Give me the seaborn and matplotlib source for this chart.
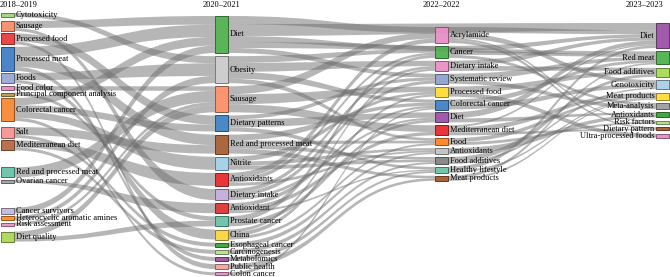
"""Thematic evolution of keywords across four periods (alluvial)."""
import matplotlib
matplotlib.use("Agg")
import matplotlib.pyplot as plt
import matplotlib.colors as mcolors
from matplotlib.path import Path
from matplotlib.patches import PathPatch, Rectangle
import seaborn as sns

# ---- data -----------------------------------------------------------------
periods = ["2018–2019", "2020–2021", "2022–2022", "2023–2023"]

terms_1819 = ["Cytotoxicity", "Sausage", "Processed food", "Processed meat", "Foods",
              "Food color", "Principal component analysis", "Colorectal cancer", "Salt",
              "Mediterranean diet", "Red and processed meat", "Ovarian cancer",
              "Cancer survivors", "Heterocyclic aromatic amines", "Risk assessment",
              "Diet quality"]
freq_1819 = [4, 10, 11, 24, 10, 4, 3, 23, 11, 10, 10, 3, 6, 4, 3, 10]

terms_2021 = ["Diet", "Obesity", "Sausage", "Dietary patterns", "Red and processed meat",
              "Nitrite", "Antioxidants", "Dietary intake", "Antioxidant", "Prostate cancer",
              "China", "Esophageal cancer", "Carcinogenesis", "Metabolomics",
              "Public health", "Colon cancer"]
freq_2021 = [37, 27, 26, 16, 19, 13, 13, 11, 10, 10, 10, 4, 4, 4, 5, 3]

terms_22 = ["Acrylamide", "Cancer", "Dietary intake", "Systematic review", "Processed food",
            "Colorectal cancer", "Diet", "Mediterranean diet", "Food", "Antioxidants",
            "Food additives", "Healthy lifestyle", "Meat products"]
freq_22 = [16, 12, 10, 10, 10, 10, 10, 10, 7, 6, 7, 6, 5]

terms_23 = ["Diet", "Red meat", "Food additives", "Genotoxicity", "Meat products",
            "Meta-analysis", "Antioxidants", "Risk factors", "Dietary pattern",
            "Ultra-processed foods"]
freq_23 = [25, 13, 9, 9, 7, 6, 5, 3, 3, 4]

# (source period, source term, target period, target term, weight)
links = [
    (0, "Cytotoxicity", 1, "Obesity", 4),
    (0, "Sausage", 1, "Diet", 7),
    (0, "Sausage", 1, "Dietary intake", 3),
    (0, "Processed food", 1, "Dietary patterns", 8),
    (0, "Processed food", 1, "Public health", 3),
    (0, "Processed meat", 1, "Diet", 10),
    (0, "Processed meat", 1, "Red and processed meat", 10),
    (0, "Processed meat", 1, "Metabolomics", 4),
    (0, "Foods", 1, "Obesity", 7),
    (0, "Foods", 1, "China", 3),
    (0, "Food color", 1, "Sausage", 4),
    (0, "Principal component analysis", 1, "Prostate cancer", 3),
    (0, "Colorectal cancer", 1, "Diet", 7),
    (0, "Colorectal cancer", 1, "Dietary patterns", 6),
    (0, "Colorectal cancer", 1, "Nitrite", 6),
    (0, "Colorectal cancer", 1, "Colon cancer", 3),
    (0, "Salt", 1, "Red and processed meat", 8),
    (0, "Salt", 1, "Esophageal cancer", 3),
    (0, "Mediterranean diet", 1, "Antioxidants", 7),
    (0, "Mediterranean diet", 1, "Carcinogenesis", 3),
    (0, "Red and processed meat", 1, "Sausage", 10),
    (0, "Ovarian cancer", 1, "Antioxidant", 3),
    (0, "Cancer survivors", 1, "Diet", 6),
    (0, "Heterocyclic aromatic amines", 1, "Obesity", 4),
    (0, "Risk assessment", 1, "Sausage", 3),
    (0, "Diet quality", 1, "Sausage", 6),
    (0, "Diet quality", 1, "Prostate cancer", 4),
    (1, "Diet", 3, "Diet", 12),
    (1, "Diet", 2, "Acrylamide", 8),
    (1, "Diet", 2, "Cancer", 6),
    (1, "Diet", 2, "Systematic review", 5),
    (1, "Diet", 3, "Red meat", 6),
    (1, "Obesity", 2, "Dietary intake", 8),
    (1, "Obesity", 2, "Colorectal cancer", 6),
    (1, "Obesity", 2, "Cancer", 6),
    (1, "Obesity", 2, "Food", 4),
    (1, "Sausage", 2, "Processed food", 10),
    (1, "Sausage", 2, "Acrylamide", 8),
    (1, "Sausage", 2, "Mediterranean diet", 8),
    (1, "Dietary patterns", 2, "Diet", 8),
    (1, "Dietary patterns", 2, "Healthy lifestyle", 4),
    (1, "Dietary patterns", 2, "Systematic review", 4),
    (1, "Red and processed meat", 2, "Colorectal cancer", 6),
    (1, "Red and processed meat", 2, "Meat products", 5),
    (1, "Red and processed meat", 2, "Food additives", 4),
    (1, "Red and processed meat", 2, "Food", 4),
    (1, "Nitrite", 2, "Food additives", 4),
    (1, "Nitrite", 2, "Antioxidants", 4),
    (1, "Nitrite", 2, "Processed food", 5),
    (1, "Antioxidants", 2, "Acrylamide", 6),
    (1, "Antioxidants", 2, "Antioxidants", 3),
    (1, "Antioxidants", 2, "Cancer", 4),
    (1, "Dietary intake", 2, "Dietary intake", 4),
    (1, "Dietary intake", 2, "Systematic review", 4),
    (1, "Dietary intake", 2, "Diet", 3),
    (1, "Antioxidant", 2, "Mediterranean diet", 4),
    (1, "Antioxidant", 2, "Colorectal cancer", 4),
    (1, "Antioxidant", 2, "Healthy lifestyle", 2),
    (1, "Prostate cancer", 2, "Cancer", 5),
    (1, "Prostate cancer", 2, "Diet", 4),
    (1, "China", 2, "Food", 3),
    (1, "China", 2, "Processed food", 4),
    (1, "China", 2, "Dietary intake", 3),
    (1, "Esophageal cancer", 2, "Antioxidants", 3),
    (1, "Carcinogenesis", 2, "Food additives", 3),
    (1, "Metabolomics", 2, "Healthy lifestyle", 3),
    (1, "Public health", 2, "Meat products", 5),
    (1, "Colon cancer", 2, "Colorectal cancer", 3),
    (2, "Acrylamide", 3, "Diet", 6),
    (2, "Acrylamide", 3, "Genotoxicity", 5),
    (2, "Acrylamide", 3, "Dietary pattern", 3),
    (2, "Acrylamide", 3, "Risk factors", 2),
    (2, "Cancer", 3, "Diet", 5),
    (2, "Cancer", 3, "Red meat", 4),
    (2, "Cancer", 3, "Meta-analysis", 3),
    (2, "Dietary intake", 3, "Food additives", 5),
    (2, "Dietary intake", 3, "Diet", 5),
    (2, "Systematic review", 3, "Meta-analysis", 4),
    (2, "Systematic review", 3, "Red meat", 6),
    (2, "Processed food", 3, "Ultra-processed foods", 4),
    (2, "Processed food", 3, "Food additives", 6),
    (2, "Colorectal cancer", 3, "Red meat", 5),
    (2, "Colorectal cancer", 3, "Genotoxicity", 5),
    (2, "Diet", 3, "Diet", 6),
    (2, "Diet", 3, "Antioxidants", 4),
    (2, "Mediterranean diet", 3, "Meat products", 5),
    (2, "Mediterranean diet", 3, "Dietary pattern", 3),
    (2, "Mediterranean diet", 3, "Diet", 2),
    (2, "Food", 3, "Meat products", 4),
    (2, "Food", 3, "Risk factors", 3),
    (2, "Antioxidants", 3, "Antioxidants", 6),
    (2, "Food additives", 3, "Food additives", 5),
    (2, "Food additives", 3, "Genotoxicity", 2),
    (2, "Healthy lifestyle", 3, "Diet", 4),
    (2, "Healthy lifestyle", 3, "Meat products", 2),
    (2, "Meat products", 3, "Red meat", 3),
    (2, "Meat products", 3, "Meat products", 2),
]

# ---- style ----------------------------------------------------------------
colors = [
    ["#9fd47a", "#f88a66", "#e8383c", "#3d7cc4", "#98a6d6", "#e68ac0", "#b89a4a",
     "#f7862f", "#f49092", "#b5653d", "#64c3a6", "#9c9c9c", "#c2b8d8", "#ff8a1e",
     "#ec8fc8", "#a9d652"],
    ["#4cae4a", "#c9c9c9", "#fb8c64", "#3a7fc0", "#a65a2e", "#9fcde8", "#e4262a",
     "#c3a9d6", "#d9302e", "#63c2a4", "#f7d53a", "#36a032", "#b6e08e", "#984ea3",
     "#f4a2a2", "#e68ac0"],
    ["#e98cc4", "#4cae4a", "#e98cc4", "#8da0cb", "#ffd92f", "#3a7fc0", "#984ea3",
     "#e4262a", "#ff8020", "#c0c0c0", "#808080", "#66c2a5", "#a65628"],
    ["#984ea3", "#4cae4a", "#a6d854", "#a6cee3", "#ffd92f", "#9a9a9a", "#34a033",
     "#b2df8a", "#a65628", "#e78ac3"],
]
col_x = [1, 215, 435, 656]
node_w = 13
col_top = [13, 16, 27, 23]
col_gap = [2.4, 3.15, 2.9, 3.4]
extra_gap = {(0, "Cytotoxicity"): 1.6, (0, "Foods"): 0.6, (0, "Colorectal cancer"): 3.6,
             (0, "Mediterranean diet"): 14.6, (0, "Ovarian cancer"): 22.6,
             (0, "Risk assessment"): 3.6}
fs = 6.0

sns.set_theme(style="white")
plt.rcParams["font.family"] = ["Liberation Serif", "DejaVu Serif"]

fig = plt.figure(figsize=(6.7, 2.77), dpi=100)
ax = fig.add_axes([0, 0, 1, 1])
ax.set_xlim(0, 670)
ax.set_ylim(277, 0)
ax.axis("off")

# ---- layout ---------------------------------------------------------------
columns = [(terms_1819, freq_1819), (terms_2021, freq_2021), (terms_22, freq_22),
           (terms_23, freq_23)]
nodes = {}
for c, (terms, freqs) in enumerate(columns):
    y = col_top[c]
    for i, (t, f) in enumerate(zip(terms, freqs)):
        nodes[(c, t)] = {"y0": y, "h": f, "color": colors[c][i]}
        y += f + col_gap[c] + extra_gap.get((c, t), 0)

out_links = {k: [] for k in nodes}
in_links = {k: [] for k in nodes}
for li, (sc, st, tc, tt, w) in enumerate(links):
    out_links[(sc, st)].append(li)
    in_links[(tc, tt)].append(li)

def centre(key):
    n = nodes[key]
    return n["y0"] + n["h"] / 2

src_span, dst_span = {}, {}
for key in nodes:
    n = nodes[key]
    for lst, side, span in ((out_links[key], 2, src_span), (in_links[key], 0, dst_span)):
        if not lst:
            continue
        other = (lambda li: (links[li][2], links[li][3])) if side == 2 else \
                (lambda li: (links[li][0], links[li][1]))
        lst = sorted(lst, key=lambda li: centre(other(li)))
        total = sum(links[li][4] for li in lst)
        y = n["y0"]
        for li in lst:
            h = links[li][4] / total * n["h"]
            span[li] = (y, y + h)
            y += h

# ---- links ----------------------------------------------------------------
for li, (sc, st, tc, tt, w) in enumerate(links):
    xs = col_x[sc] + node_w
    xt = col_x[tc]
    xm = (xs + xt) / 2
    s0, s1 = src_span[li]
    t0, t1 = dst_span[li]
    verts = [(xs, s0), (xm, s0), (xm, t0), (xt, t0),
             (xt, t1), (xm, t1), (xm, s1), (xs, s1), (xs, s0)]
    codes = [Path.MOVETO, Path.CURVE4, Path.CURVE4, Path.CURVE4,
             Path.LINETO, Path.CURVE4, Path.CURVE4, Path.CURVE4, Path.CLOSEPOLY]
    ax.add_patch(PathPatch(Path(verts, codes), facecolor="#6e6e6e", edgecolor="none",
                           alpha=0.5, zorder=1))

# ---- nodes and labels -----------------------------------------------------
for (c, t), n in nodes.items():
    rgb = mcolors.to_rgb(n["color"])
    edge = tuple(v * 0.55 for v in rgb)
    ax.add_patch(Rectangle((col_x[c], n["y0"]), node_w, n["h"], facecolor=rgb,
                           edgecolor=edge, linewidth=0.7, alpha=0.92, zorder=3))
    yc = n["y0"] + n["h"] / 2
    if c < 3:
        ax.text(col_x[c] + node_w + 1.5, yc, t, ha="left", va="center",
                fontsize=fs, color="black", zorder=4)
    else:
        ax.text(col_x[c] - 1.5, yc, t, ha="right", va="center",
                fontsize=fs, color="black", zorder=4)

head_ha = ["left", "center", "center", "right"]
head_x = [0, col_x[1] + node_w / 2, col_x[2] + node_w / 2, 663]
for c, p in enumerate(periods):
    ax.text(head_x[c], 5, p, ha=head_ha[c], va="center", fontsize=fs, color="black")

fig.savefig("out.png", dpi=100)
